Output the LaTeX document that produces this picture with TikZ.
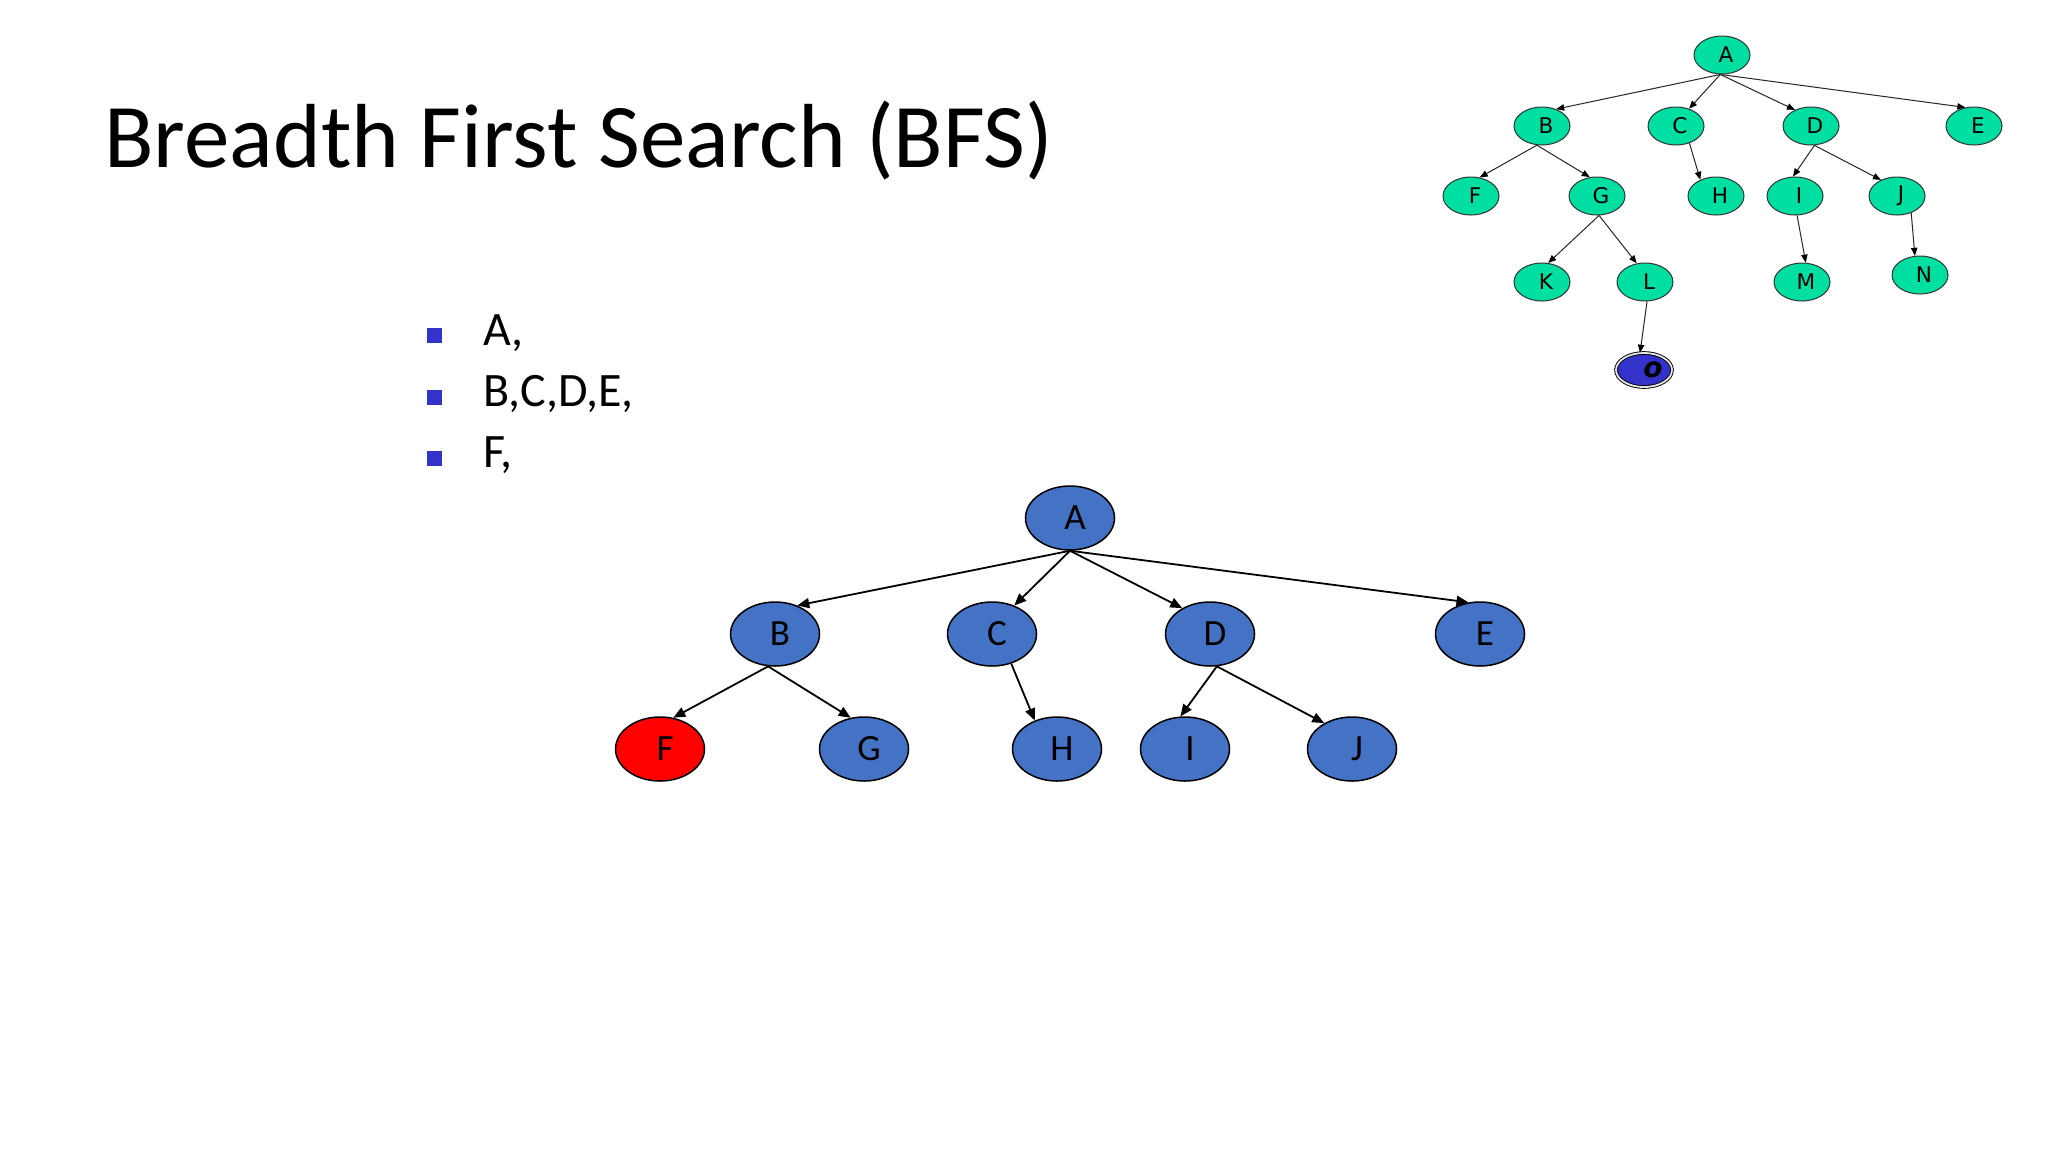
\documentclass[tikz,border=0pt]{standalone}
\usepackage{fontspec}
\setmainfont{Carlito}
\newfontfamily\dejavu{DejaVu Sans}
\usetikzlibrary{arrows.meta,shapes.geometric}
\definecolor{mainblue}{HTML}{4472C4}
\definecolor{hotred}{HTML}{FF0000}
\definecolor{mint}{HTML}{00DFA2}
\definecolor{goalblue}{HTML}{3333CC}
\definecolor{bulletblue}{HTML}{3333CC}
\begin{document}
\begin{tikzpicture}[x=0.5pt,y=-0.5pt,
  bulletsq/.style={rectangle,fill=bulletblue,minimum size=7.5pt,inner sep=0pt},
  itemtext/.style={anchor=base west,inner sep=0pt,font=\fontsize{24}{28}\selectfont},
  mnode/.style={ellipse,draw=black,line width=0.75pt,fill=mainblue,minimum width=44.5pt,minimum height=32pt,inner sep=0pt,font=\fontsize{18.5}{20}\selectfont},
  snode/.style={ellipse,draw=black!80,line width=0.5pt,fill=mint,minimum width=28pt,minimum height=19pt,inner sep=0pt,font=\dejavu\fontsize{10.8}{12}\selectfont},
  medge/.style={line width=0.9pt,-{Triangle[length=6pt,width=5pt]}},
  sedge/.style={draw=black!85,line width=0.5pt,-{Triangle[length=4pt,width=3.2pt,color=black]}}
]
\useasboundingbox (0,0) rectangle (2048,1152);
\fill[white] (0,0) rectangle (2048,1152);

% title
\node[anchor=base west,inner sep=0pt,font=\fontsize{45.5}{50}\selectfont] (title) at (104,167) {Breadth First Search (BFS)};

% bullet list
\node[bulletsq] (b1) at (434,335) {};
\node[bulletsq] (b2) at (434,397) {};
\node[bulletsq] (b3) at (434,458.5) {};
\node[itemtext] (t1) at (483,345) {A,};
\node[itemtext] (t2) at (483,406) {B,C,D,E,};
\node[itemtext] (t3) at (483,467) {F,};

% main tree
\node[mnode] (mA) at (1070,518) {\hspace{5pt}A};
\node[mnode] (mB) at (775,634) {\hspace{5pt}B};
\node[mnode] (mC) at (992,634) {\hspace{5pt}C};
\node[mnode] (mD) at (1210,634) {\hspace{5pt}D};
\node[mnode] (mE) at (1480,634) {\hspace{5pt}E};
\node[mnode,fill=hotred] (mF) at (660,749) {\hspace{5pt}F};
\node[mnode] (mG) at (864,749) {\hspace{5pt}G};
\node[mnode] (mH) at (1057,749) {\hspace{5pt}H};
\node[mnode] (mI) at (1185,749) {\hspace{5pt}I};
\node[mnode] (mJ) at (1352,749) {\hspace{5pt}J};

\draw[medge] (mA.270) -- (mB.52);
\draw[medge] (mA.270) -- (mC.52);
\draw[medge] (mA.270) -- (mD.137);
\draw[medge] (mA.270) -- (mE.110);
\draw[medge] (mB.258) -- (mF.67);
\draw[medge] (mB.258) -- (mG.113);
\draw[medge] (mC.303) -- (mH.128);
\draw[medge] (mD.282) -- (mI.98);
\draw[medge] (mD.282) -- (mJ.137);

% small tree
\node[snode] (sA) at (1722,55) {\hspace{4pt}A};
\node[snode] (sB) at (1542,126) {\hspace{4pt}B};
\node[snode] (sC) at (1676,126) {\hspace{4pt}C};
\node[snode] (sD) at (1811,126) {\hspace{4pt}D};
\node[snode] (sE) at (1974,126) {\hspace{4pt}E};
\node[snode] (sF) at (1471,196) {\hspace{4pt}F};
\node[snode] (sG) at (1597,196) {\hspace{4pt}G};
\node[snode] (sH) at (1716,196) {\hspace{4pt}H};
\node[snode] (sI) at (1795,196) {\hspace{4pt}I};
\node[snode] (sJ) at (1897,196) {\hspace{4pt}J};
\node[snode] (sK) at (1542,282) {\hspace{4pt}K};
\node[snode] (sL) at (1645,282) {\hspace{4pt}L};
\node[snode] (sM) at (1802,282) {\hspace{4pt}M};
\node[snode] (sN) at (1920,275) {\hspace{4pt}N};
\node[snode,fill=goalblue,draw=black,line width=0.45pt,double=white!80!gray,double distance=0.9pt,minimum width=28pt,minimum height=17pt,font=\dejavu\bfseries\itshape\fontsize{14}{15}\selectfont] (sO) at (1644,370) {\hspace{9pt}o};

\draw[sedge] (sA.265) -- (sB.50);
\draw[sedge] (sA.265) -- (sC.53);
\draw[sedge] (sA.265) -- (sD.135);
\draw[sedge] (sA.265) -- (sE.115);
\draw[sedge] (sB.255) -- (sF.65);
\draw[sedge] (sB.255) -- (sG.111);
\draw[sedge] (sC.308) -- (sH.134);
\draw[sedge] (sD.280) -- (sI.96);
\draw[sedge] (sD.280) -- (sJ.135);
\draw[sedge] (sG.276) -- (sK.72);
\draw[sedge] (sG.276) -- (sL.114);
\draw[sedge] (sI.276) -- (sM.79);
\draw[sedge] (sJ.310) -- (sN.105);
\draw[sedge] (sL.276) -- (sO.103);
\end{tikzpicture}
\end{document}
